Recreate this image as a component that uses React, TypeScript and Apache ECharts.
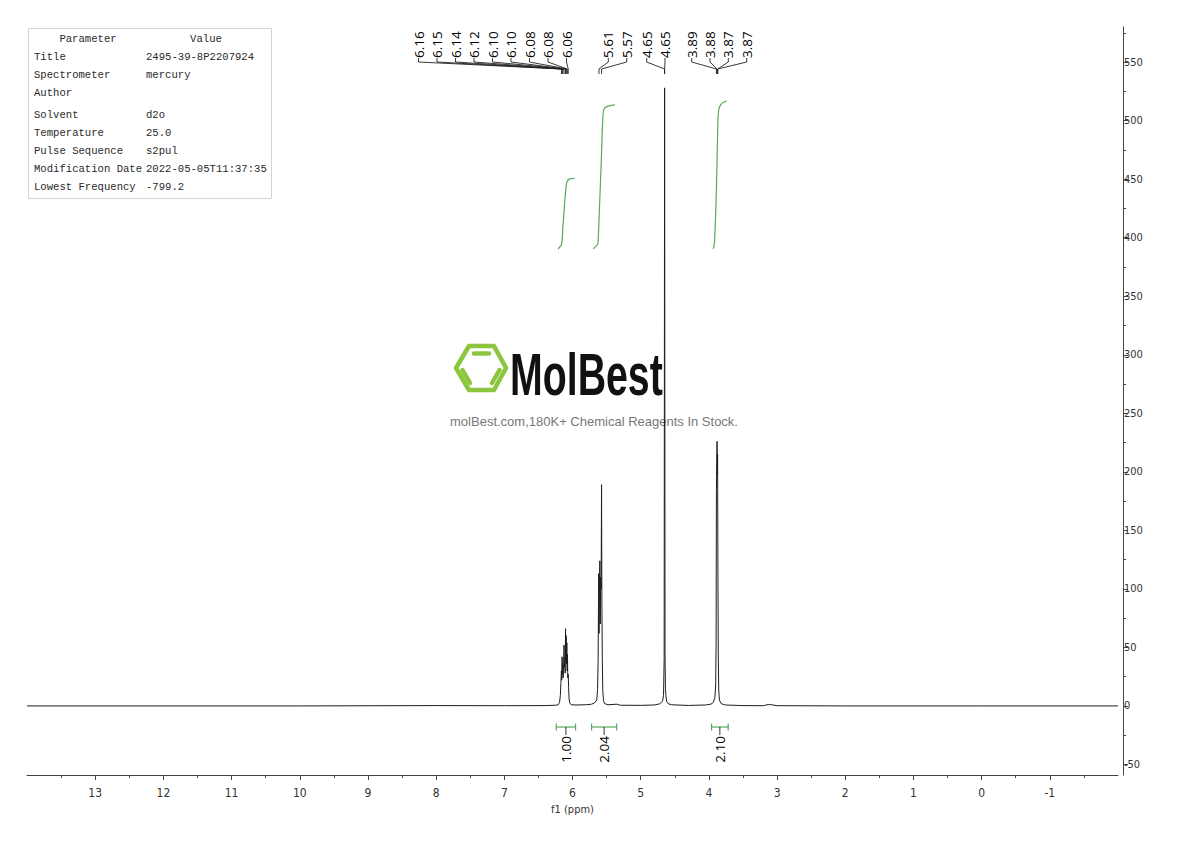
import React, { useEffect, useRef } from "react";
import * as echarts from "echarts";

// ---------- data ----------
const ppmMajorTicks = [13, 12, 11, 10, 9, 8, 7, 6, 5, 4, 3, 2, 1, 0, -1];
const ppmMinorTicks = [13.5, 12.5, 11.5, 10.5, 9.5, 8.5, 7.5, 6.5, 5.5, 4.5, 3.5, 2.5, 1.5, 0.5, -0.5, -1.5];
const intensityMajorTicks = [-50, 0, 50, 100, 150, 200, 250, 300, 350, 400, 450, 500, 550];
const intensityMinorTicks = [-25, 25, 75, 125, 175, 225, 275, 325, 375, 425, 475, 525, 575];

const spectrum: [number, number][] = [
  [14, 0], [10, 0], [8, 0.3], [7, 0.2], [6.4, 0.3], [6.25, 0.6], [6.21, 1], [6.19, 3], [6.178, 9],
  [6.17, 20], [6.163, 30], [6.158, 22], [6.152, 42], [6.148, 27], [6.143, 36], [6.138, 24],
  [6.131, 30], [6.124, 52], [6.119, 33], [6.113, 41], [6.107, 28], [6.102, 66], [6.098, 40],
  [6.093, 60], [6.088, 36], [6.083, 54], [6.078, 30], [6.074, 44], [6.069, 24], [6.063, 27],
  [6.057, 16], [6.05, 6], [6.04, 2.5], [6.02, 1], [5.95, 0.8], [5.8, 1], [5.72, 1.5], [5.68, 2.5],
  [5.645, 5], [5.632, 14], [5.624, 40], [5.616, 113], [5.611, 62], [5.605, 96], [5.599, 124],
  [5.593, 70], [5.587, 110], [5.58, 100], [5.574, 189], [5.569, 88], [5.563, 40], [5.556, 13],
  [5.545, 4.5], [5.53, 2], [5.48, 1], [5.35, 1.5], [5.3, 0.6], [5.0, 0.5], [4.8, 0.8], [4.72, 1.8],
  [4.68, 4], [4.665, 9], [4.656, 40], [4.649, 528], [4.643, 45], [4.637, 14], [4.63, 9],
  [4.62, 4], [4.6, 2], [4.55, 1], [4.3, 0.4], [4.05, 0.8], [3.97, 1.5], [3.935, 3], [3.912, 7],
  [3.9, 18], [3.894, 55], [3.889, 185], [3.885, 209], [3.88, 226], [3.876, 198], [3.872, 215],
  [3.868, 125], [3.862, 42], [3.855, 13], [3.845, 5], [3.82, 2], [3.76, 0.8], [3.5, 0.3],
  [3.2, 0.2], [3.13, 1.2], [3.08, 1], [3.0, 0.2], [2.0, 0], [0, 0], [-2, 0],
];

const integral1: [number, number][] = [
  [6.21, 390.3], [6.19, 392], [6.16, 394], [6.14, 410], [6.12, 426], [6.1, 440],
  [6.087, 446.5], [6.07, 449], [6.048, 450], [6.0, 450.6], [5.965, 450.8],
];
const integral2: [number, number][] = [
  [5.697, 390.5], [5.67, 392], [5.635, 394], [5.624, 397], [5.6, 432], [5.575, 470],
  [5.555, 503], [5.54, 509.5], [5.5, 512], [5.43, 513], [5.378, 513.5],
];
const integral3: [number, number][] = [
  [3.937, 390.5], [3.925, 393], [3.915, 398], [3.89, 440], [3.875, 480], [3.863, 505],
  [3.845, 511.5], [3.8, 515.2], [3.74, 516.8],
];

const integralRanges: [number, number][] = [[6.238, 5.955], [5.72, 5.353], [3.961, 3.717]];
const integralValues = ["1.00", "2.04", "2.10"];

const peakLabels = ["6.16", "6.15", "6.14", "6.12", "6.10", "6.10", "6.08", "6.08", "6.06",
  "5.61", "5.57", "4.65", "4.65", "3.89", "3.88", "3.87", "3.87"];
const peakPpm = [6.16, 6.153, 6.143, 6.124, 6.102, 6.098, 6.083, 6.078, 6.063,
  5.612, 5.574, 4.6495, 4.6485, 3.889, 3.88, 3.872, 3.87];

const paramNames = ["Title", "Spectrometer", "Author", "Solvent", "Temperature",
  "Pulse Sequence", "Modification Date", "Lowest Frequency"];
const paramValues = ["2495-39-8P2207924", "mercury", "", "d2o", "25.0", "s2pul",
  "2022-05-05T11:37:35", "-799.2"];

// ---------- layout / style ----------
const labelXs = [418.5, 437, 455.5, 474, 492.5, 511, 529.5, 548, 566.5,
  608.3, 626.7, 646.7, 665, 691.7, 710, 728.3, 746.7];
const rowYs = [57, 75, 93, 115, 133, 151, 169, 187];
const NARROW = "'Liberation Sans Narrow', 'DejaVu Sans Condensed', 'Roboto Condensed', sans-serif";
const SANS = "'Open Sans', 'Noto Sans', sans-serif";
const MONO = "'Liberation Mono', 'DejaVu Sans Mono', monospace";
const GREEN = "#5aaa5a";

export default function App() {
  const ref = useRef<HTMLDivElement>(null);

  useEffect(() => {
    const chart = echarts.init(ref.current!, null, { renderer: "svg" });
    const axisColor = "#444";
    chart.setOption({
      animation: false,
      backgroundColor: "#fff",
      grid: { left: 27, right: 72, top: 27, bottom: 66, containLabel: false },
      xAxis: [
        {
          type: "value", min: -2, max: 14, inverse: true, position: "bottom",
          axisLine: { show: true, onZero: false, lineStyle: { color: axisColor, width: 1 } },
          axisTick: { show: true, customValues: ppmMajorTicks, length: 5, lineStyle: { color: axisColor } },
          axisLabel: { customValues: ppmMajorTicks, margin: 12, fontFamily: NARROW, fontSize: 12, color: "#333" },
          splitLine: { show: false },
          name: "f1 (ppm)", nameLocation: "middle", nameGap: 27,
          nameTextStyle: { fontFamily: NARROW, fontSize: 11, color: "#333" },
        },
        {
          type: "value", min: -2, max: 14, inverse: true, position: "bottom",
          axisLine: { show: false, onZero: false },
          axisTick: { show: true, customValues: ppmMinorTicks, length: 3, lineStyle: { color: axisColor } },
          axisLabel: { show: false }, splitLine: { show: false },
        },
      ],
      yAxis: [
        {
          type: "value", min: -59, max: 580, position: "right", offset: 5,
          axisLine: { show: true, onZero: false, lineStyle: { color: axisColor, width: 1 } },
          axisTick: { show: true, customValues: intensityMajorTicks, length: 5, lineStyle: { color: axisColor } },
          axisLabel: { customValues: intensityMajorTicks, margin: 1, fontFamily: NARROW, fontSize: 11, color: "#333" },
          splitLine: { show: false },
        },
        {
          type: "value", min: -59, max: 580, position: "right", offset: 5,
          axisLine: { show: false, onZero: false },
          axisTick: { show: true, customValues: intensityMinorTicks, length: 3, lineStyle: { color: axisColor } },
          axisLabel: { show: false }, splitLine: { show: false },
        },
      ],
      series: [
        {
          type: "line", data: spectrum, xAxisIndex: 0, yAxisIndex: 0, showSymbol: false,
          lineStyle: { color: "#1e1e1e", width: 1 }, z: 3, silent: true,
        },
        ...[integral1, integral2, integral3].map((d) => ({
          type: "line", data: d, xAxisIndex: 0, yAxisIndex: 0, showSymbol: false, smooth: 0.3,
          lineStyle: { color: GREEN, width: 1.2 }, z: 3, silent: true,
        })),
      ],
    });

    const px = (p: number, v: number) =>
      chart.convertToPixel({ xAxisIndex: 0, yAxisIndex: 0 }, [p, v]) as number[];

    const g: any[] = [];

    // parameter table
    g.push({ type: "rect", shape: { x: 28.5, y: 28.5, width: 243, height: 170 },
      style: { fill: "#fff", stroke: "#d4d4d4", lineWidth: 1 }, z: 5 });
    const tStyle = { fontFamily: MONO, fontSize: 10.6, fill: "#2a2a2a", verticalAlign: "middle" };
    g.push({ type: "text", x: 88, y: 39, z: 6, style: { ...tStyle, text: "Parameter", align: "center" } });
    g.push({ type: "text", x: 206, y: 39, z: 6, style: { ...tStyle, text: "Value", align: "center" } });
    paramNames.forEach((n, i) => {
      g.push({ type: "text", x: 34, y: rowYs[i], z: 6, style: { ...tStyle, text: n, align: "left" } });
      if (paramValues[i]) {
        g.push({ type: "text", x: 146, y: rowYs[i], z: 6, style: { ...tStyle, text: paramValues[i], align: "left" } });
      }
    });

    // watermark logo
    const logoStroke = { fill: "none", stroke: "#8cc63f", lineWidth: 4.5, lineJoin: "round", lineCap: "round" };
    g.push({ type: "polygon", z: 0, shape: { points: [[456, 368], [469, 346], [494, 346], [506, 368], [494, 390], [469, 390]] }, style: logoStroke });
    g.push({ type: "line", z: 0, shape: { x1: 474, y1: 353.5, x2: 489, y2: 353.5 }, style: logoStroke });
    g.push({ type: "line", z: 0, shape: { x1: 462.5, y1: 370, x2: 470, y2: 383 }, style: logoStroke });
    g.push({ type: "line", z: 0, shape: { x1: 499.5, y1: 370, x2: 492, y2: 383 }, style: logoStroke });
    g.push({ type: "text", z: 0, x: 510, y: 374, scaleX: 0.655, scaleY: 1,
      style: { text: "MolBest", fontFamily: "'Liberation Sans', Arial, sans-serif", fontWeight: "bold", fontSize: 60, fill: "#111", align: "left", verticalAlign: "middle" } });
    g.push({ type: "text", z: 0, x: 594, y: 421,
      style: { text: "molBest.com,180K+ Chemical Reagents In Stock.", fontFamily: "'Liberation Sans', Arial, sans-serif", fontSize: 13, fill: "#777", align: "center", verticalAlign: "middle" } });

    // peak labels with leader lines
    peakLabels.forEach((lab, i) => {
      const lx = labelXs[i];
      const pxX = px(peakPpm[i], 0)[0];
      g.push({ type: "text", z: 6, x: lx, y: 58, rotation: Math.PI / 2,
        style: { text: lab, fontFamily: SANS, fontSize: 13.5, fill: "#000", align: "left", verticalAlign: "middle" } });
      g.push({ type: "polyline", z: 6, shape: { points: [[lx, 58], [lx, 62], [pxX, 69], [pxX, 74]] },
        style: { stroke: "#222", lineWidth: 0.9, fill: "none" } });
    });

    // integration bars and values
    integralRanges.forEach((r, i) => {
      const x1 = px(r[0], 0)[0];
      const x2 = px(r[1], 0)[0];
      const cx = (x1 + x2) / 2;
      const yb = 727;
      const st = { stroke: GREEN, lineWidth: 1.2, fill: "none" };
      g.push({ type: "line", z: 6, shape: { x1, y1: yb, x2, y2: yb }, style: st });
      g.push({ type: "line", z: 6, shape: { x1, y1: yb - 3.5, x2: x1, y2: yb + 3.5 }, style: st });
      g.push({ type: "line", z: 6, shape: { x1: x2, y1: yb - 3.5, x2, y2: yb + 3.5 }, style: st });
      g.push({ type: "line", z: 6, shape: { x1: cx, y1: yb, x2: cx, y2: yb + 8 }, style: { stroke: "#333", lineWidth: 1 } });
      g.push({ type: "text", z: 6, x: cx, y: yb + 9, rotation: Math.PI / 2,
        style: { text: integralValues[i], fontFamily: SANS, fontSize: 13.5, fill: "#000", align: "right", verticalAlign: "middle" } });
    });

    chart.setOption({ graphic: g });
    return () => chart.dispose();
  }, []);

  return (
    <div
      ref={ref}
      style={{ position: "fixed", left: 0, top: 0, width: 1190, height: 841, background: "#fff" }}
    />
  );
}
